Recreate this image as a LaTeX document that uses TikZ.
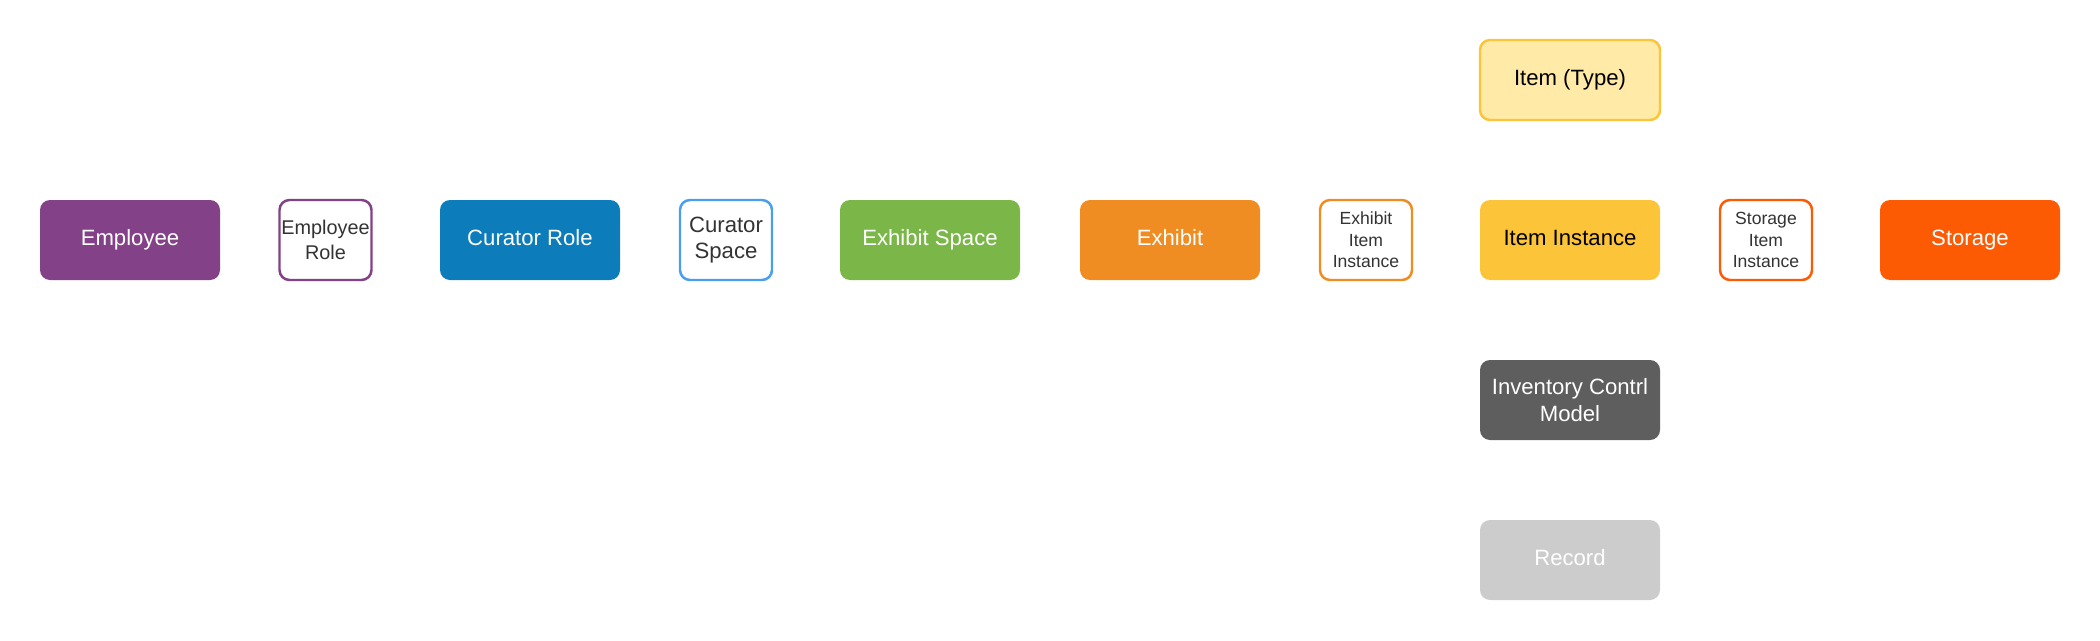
\documentclass[tikz,border=0pt]{standalone}
\usepackage{fontspec}
\setmainfont{Liberation Sans}
\definecolor{empPurple}{HTML}{834187}
\definecolor{curBlue}{HTML}{0C7CBA}
\definecolor{spaceBlue}{HTML}{4A9EF0}
\definecolor{exhGreen}{HTML}{7AB648}
\definecolor{exhOrange}{HTML}{EF8D22}
\definecolor{itemYellow}{HTML}{FCC438}
\definecolor{typeYellow}{HTML}{FFEAA7}
\definecolor{storeRed}{HTML}{FC5A03}
\definecolor{modelGrey}{HTML}{5E5E5E}
\definecolor{recordGrey}{HTML}{CCCCCC}
\definecolor{darkText}{HTML}{333333}
\begin{document}
\begin{tikzpicture}[
    big/.style={rounded corners=1mm,minimum width=1.8cm,minimum height=0.8cm,inner sep=0pt,align=center,font=\fontsize{6.3}{7.6}\selectfont},
    oneline/.style={text height=4.6pt,text depth=1.4pt},
    small/.style={draw,line width=0.7pt,fill=white,rounded corners=1mm,minimum width=0.92cm,minimum height=0.8cm,inner sep=0pt,align=center,text=darkText}]
  \useasboundingbox (0,0) rectangle (21,6.4);
  % main row
  \node[big,oneline,fill=empPurple,text=white] (employee) at (1.3,4.0) {Employee};
  \node[small,draw=empPurple,font=\fontsize{5.65}{6.9}\selectfont] (empRole) at (3.255,4.0) {Employee\\Role};
  \node[big,oneline,fill=curBlue,text=white] (curatorRole) at (5.3,4.0) {Curator Role};
  \node[small,draw=spaceBlue,font=\fontsize{6.3}{7.2}\selectfont] (curatorSpace) at (7.26,4.0) {Curator\\Space};
  \node[big,oneline,fill=exhGreen,text=white] (exhibitSpace) at (9.3,4.0) {Exhibit Space};
  \node[big,oneline,fill=exhOrange,text=white] (exhibit) at (11.7,4.0) {Exhibit};
  \node[small,draw=exhOrange,font=\fontsize{5.0}{6.1}\selectfont] (exhibitItem) at (13.66,4.0) {Exhibit\\Item\\Instance};
  \node[big,oneline,fill=itemYellow,text=black] (itemInstance) at (15.7,4.0) {Item Instance};
  \node[small,draw=storeRed,font=\fontsize{5.0}{6.1}\selectfont] (storageItem) at (17.66,4.0) {Storage\\Item\\Instance};
  \node[big,oneline,fill=storeRed,text=white] (storage) at (19.7,4.0) {Storage};
  % item column
  \node[big,oneline,draw=itemYellow,line width=0.7pt,fill=typeYellow,text=black] (itemType) at (15.7,5.6) {Item (Type)};
  \node[big,fill=modelGrey,text=white] (model) at (15.7,2.4) {Inventory Contrl\\Model};
  \node[big,oneline,fill=recordGrey,text=white] (record) at (15.7,0.8) {Record};
\end{tikzpicture}
\end{document}
